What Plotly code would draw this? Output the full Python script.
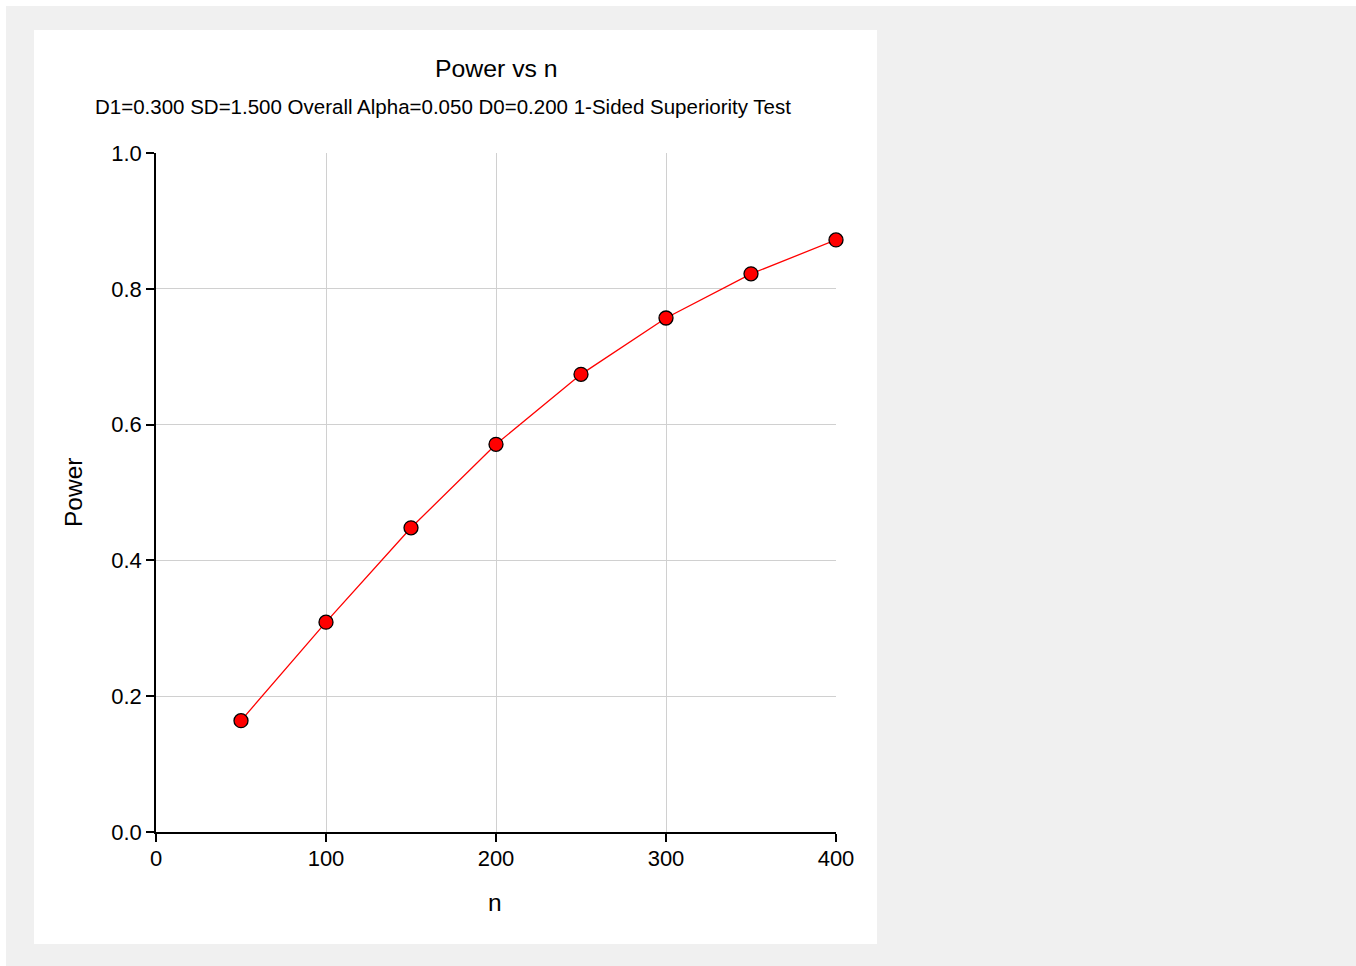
import plotly.graph_objects as go

n_values = [50, 100, 150, 200, 250, 300, 350, 400]
power_values = [0.164, 0.309, 0.448, 0.571, 0.674, 0.757, 0.822, 0.872]
x_ticks = [0, 100, 200, 300, 400]
y_ticks = [0.0, 0.2, 0.4, 0.6, 0.8, 1.0]
y_tick_labels = ["0.0", "0.2", "0.4", "0.6", "0.8", "1.0"]

W, H = 1356, 966
L, R, T, B = 156, 836, 153, 832
pw, ph = R - L, B - T

def px(x):
    return (x - L) / pw

def py(y):
    return (B - y) / ph

FONT = "Liberation Sans, Arial, sans-serif"

fig = go.Figure()
fig.add_trace(go.Scatter(
    x=n_values, y=power_values, mode="lines+markers",
    line=dict(color="#ff0000", width=1.3),
    marker=dict(size=14, color="#ff0000", line=dict(color="#000000", width=1.3)),
    cliponaxis=False, showlegend=False,
))

shapes = [
    dict(type="rect", xref="paper", yref="paper", x0=px(-10), x1=px(W + 10), y0=py(-10), y1=py(H + 10),
         fillcolor="#ffffff", line=dict(width=0), layer="below"),
    dict(type="rect", xref="paper", yref="paper", x0=px(6), x1=px(W + 10), y0=py(6), y1=py(H + 10),
         fillcolor="#f0f0f0", line=dict(width=0), layer="below"),
    dict(type="rect", xref="paper", yref="paper", x0=px(34), x1=px(877), y0=py(30), y1=py(944),
         fillcolor="#ffffff", line=dict(width=0), layer="below"),
]

annotations = [
    dict(text="Power vs n", x=px(496), y=py(68), xref="paper", yref="paper",
         showarrow=False, font=dict(family=FONT, size=24.8, color="#000000"),
         xanchor="center", yanchor="middle"),
    dict(text="D1=0.300 SD=1.500 Overall Alpha=0.050 D0=0.200 1-Sided Superiority Test",
         x=px(443), y=py(106), xref="paper", yref="paper",
         showarrow=False, font=dict(family=FONT, size=20.5, color="#000000"),
         xanchor="center", yanchor="middle"),
    dict(text="Power", x=px(73), y=py(493), xref="paper", yref="paper", textangle=-90,
         showarrow=False, font=dict(family=FONT, size=24.5, color="#000000"),
         xanchor="center", yanchor="middle"),
    dict(text="n", x=px(495), y=py(902), xref="paper", yref="paper",
         showarrow=False, font=dict(family=FONT, size=24.5, color="#000000"),
         xanchor="center", yanchor="middle"),
]

fig.update_layout(
    width=W, height=H,
    margin=dict(l=L, r=W - R, t=T, b=H - B, pad=0),
    paper_bgcolor="#f0f0f0", plot_bgcolor="#ffffff",
    shapes=shapes, annotations=annotations,
    font=dict(family=FONT, color="#000000"),
    xaxis=dict(range=[0, 400], tickvals=x_ticks, ticktext=[str(v) for v in x_ticks],
               showgrid=True, gridcolor="#d0d0d0", gridwidth=1.2,
               showline=True, linecolor="#000000", linewidth=1.5,
               ticks="outside", ticklen=8, tickcolor="#000000", tickwidth=1.5,
               tickfont=dict(family=FONT, size=22, color="#000000"),
               ticklabelstandoff=-2,
               zeroline=False, fixedrange=True),
    yaxis=dict(range=[0, 1], tickvals=y_ticks, ticktext=y_tick_labels,
               showgrid=True, gridcolor="#d0d0d0", gridwidth=1.2,
               showline=True, linecolor="#000000", linewidth=1.5,
               ticks="outside", ticklen=8, tickcolor="#000000", tickwidth=1.5,
               tickfont=dict(family=FONT, size=22, color="#000000"),
               zeroline=False, fixedrange=True),
)

fig.write_html("out.html", config={"displayModeBar": False},
               post_script="document.body.style.margin='0';document.body.style.overflow='hidden';")
